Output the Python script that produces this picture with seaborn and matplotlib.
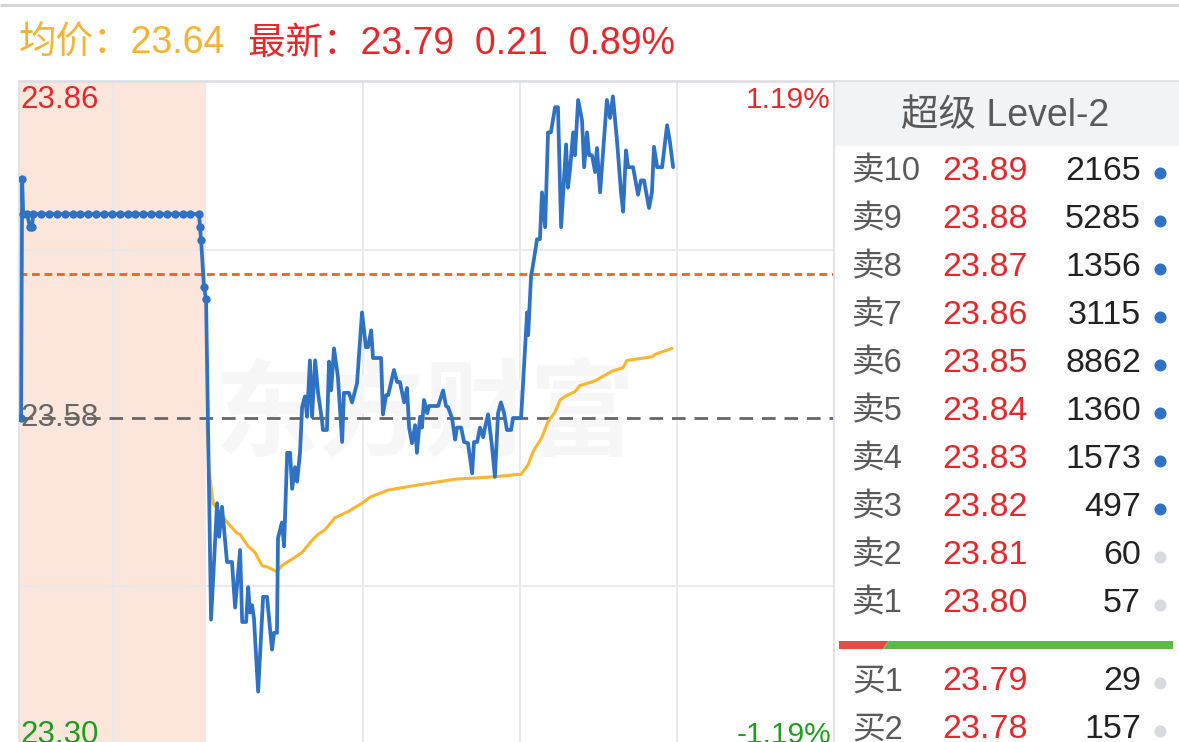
import matplotlib
matplotlib.use("Agg")
import matplotlib.pyplot as plt
import seaborn as sns
from matplotlib.patches import Rectangle, Polygon

sns.set_theme(style="white")
plt.rcParams['font.family'] = ['Liberation Sans', 'Noto Sans CJK SC', 'DejaVu Sans']

# ---------------- data ----------------
prev_close = 23.58
y_top = 23.86
y_bottom = 23.30
pct_top = "1.19%"
pct_bottom = "-1.19%"
ref_price = 23.70          # orange dashed reference line
avg_price = 23.64
last_price = 23.79
change = 0.21
change_pct = "0.89%"

# call-auction segment (minutes relative to 9:30, auction compressed to the left band)
auction_t = [-70.7, -70.3, -69.9, -68.4, -67.3, -66.5, -66.1, -63.0, -60.0, -57.0, -54.0,
             -51.0, -48.0, -45.0, -42.0, -39.0, -36.0, -33.0, -30.0, -27.0, -24.0, -21.0,
             -18.0, -15.0, -12.0, -9.0, -6.0, -2.7, -2.3, -1.9, -0.8, 0.0]
auction_p = [23.580, 23.779, 23.750, 23.750, 23.739, 23.739, 23.750, 23.750, 23.750, 23.750,
             23.750, 23.750, 23.750, 23.750, 23.750, 23.750, 23.750, 23.750, 23.750, 23.750,
             23.750, 23.750, 23.750, 23.750, 23.750, 23.750, 23.750, 23.750, 23.739, 23.728,
             23.689, 23.679]

# continuous trading (minutes since 9:30, lunch break removed)
trade_t = [0.0, 1.9, 4.2, 5.0, 6.1, 8.0, 9.9, 11.1, 13.0, 13.8, 15.3, 16.1, 16.8, 17.6, 18.3,
           19.9, 21.8, 23.3, 25.2, 26.0, 27.1, 27.5, 29.0, 29.8, 31.0, 32.1, 32.9, 34.0, 34.8,
           35.9, 36.7, 37.8, 38.6, 39.7, 40.5, 41.7, 42.8, 44.3, 44.7, 46.2, 47.0, 47.8, 48.9,
           50.4, 52.0, 52.7, 54.6, 55.8, 57.7, 59.6, 61.1, 61.9, 63.1, 63.8, 66.9, 67.6, 68.8,
           69.6, 71.8, 73.0, 74.1, 75.7, 76.8, 77.6, 78.7, 79.9, 80.6, 81.8, 82.5, 83.3, 84.5,
           85.2, 88.7, 90.6, 91.7, 92.5, 94.0, 95.2, 95.9, 97.5, 98.6, 100.1, 101.7, 102.4,
           103.6, 104.7, 105.9, 106.6, 107.8, 109.3, 110.4, 111.6, 112.7, 113.9, 115.0, 116.6,
           117.3, 120.4, 122.7, 123.1, 124.2, 125.0, 126.5, 127.6, 128.4, 129.6, 130.7, 131.8,
           133.4, 134.5, 135.7, 137.6, 138.3, 139.1, 140.3, 141.0, 142.2, 143.7, 144.5, 145.6,
           146.4, 147.5, 148.7, 149.4, 150.6, 153.2, 154.4, 155.5, 157.1, 158.6, 159.4, 160.5,
           161.3, 163.2, 165.1, 166.2, 167.4, 169.3, 170.4, 171.2, 172.4, 174.3, 176.2, 177.3,
           178.5]
trade_p = [23.679, 23.412, 23.509, 23.481, 23.506, 23.460, 23.460, 23.422, 23.470, 23.410,
           23.410, 23.439, 23.418, 23.424, 23.413, 23.352, 23.431, 23.431, 23.387, 23.401,
           23.401, 23.480, 23.493, 23.473, 23.551, 23.551, 23.521, 23.539, 23.527, 23.551,
           23.589, 23.598, 23.581, 23.628, 23.581, 23.628, 23.601, 23.578, 23.570, 23.570,
           23.627, 23.603, 23.638, 23.614, 23.560, 23.601, 23.601, 23.593, 23.609, 23.668,
           23.639, 23.639, 23.653, 23.630, 23.630, 23.583, 23.599, 23.599, 23.620, 23.610,
           23.610, 23.593, 23.605, 23.572, 23.559, 23.574, 23.551, 23.581, 23.572, 23.595,
           23.584, 23.590, 23.590, 23.603, 23.590, 23.589, 23.580, 23.562, 23.572, 23.572,
           23.560, 23.559, 23.534, 23.560, 23.560, 23.572, 23.564, 23.572, 23.583, 23.556,
           23.531, 23.584, 23.593, 23.584, 23.570, 23.570, 23.580, 23.580, 23.668, 23.649,
           23.698, 23.708, 23.729, 23.729, 23.768, 23.739, 23.818, 23.818, 23.839, 23.839,
           23.739, 23.808, 23.772, 23.787, 23.818, 23.799, 23.845, 23.828, 23.789, 23.818,
           23.799, 23.799, 23.785, 23.805, 23.768, 23.845, 23.830, 23.848, 23.810, 23.768,
           23.752, 23.803, 23.789, 23.789, 23.766, 23.778, 23.778, 23.755, 23.768, 23.806,
           23.789, 23.789, 23.824, 23.810, 23.789]

avg_t = [0.4, 1.1, 2.7, 7.3, 11.8, 13.0, 16.1, 18.7, 21.4, 23.3, 27.1, 29.0, 34.0, 36.7, 40.5,
         42.8, 45.5, 49.3, 54.3, 59.6, 62.7, 69.6, 80.6, 95.2, 110.4, 119.2, 120.4, 123.1,
         125.0, 128.4, 130.7, 133.4, 135.3, 137.2, 141.0, 142.9, 148.7, 155.2, 159.4, 160.9,
         170.5, 171.6, 178.1]
avg_p = [23.576, 23.537, 23.509, 23.495, 23.484, 23.483, 23.473, 23.468, 23.457, 23.456,
         23.452, 23.457, 23.464, 23.468, 23.478, 23.483, 23.487, 23.497, 23.502, 23.509,
         23.514, 23.520, 23.524, 23.529, 23.531, 23.533, 23.533, 23.541, 23.552, 23.564,
         23.577, 23.585, 23.595, 23.598, 23.602, 23.607, 23.611, 23.619, 23.622, 23.628,
         23.631, 23.633, 23.638]

x_start, x_end = -71.5, 240.0
grid_x = [-35.7, 60, 120, 180]
grid_y = [23.72, 23.44]

# order book
sell_levels = ['卖10', '卖9', '卖8', '卖7', '卖6', '卖5', '卖4', '卖3', '卖2', '卖1']
sell_prices = [23.89, 23.88, 23.87, 23.86, 23.85, 23.84, 23.83, 23.82, 23.81, 23.80]
sell_volumes = [2165, 5285, 1356, 3115, 8862, 1360, 1573, 497, 60, 57]
sell_active = [True, True, True, True, True, True, True, True, False, False]
buy_levels = ['买1', '买2']
buy_prices = [23.79, 23.78]
buy_volumes = [29, 157]
buy_active = [False, False]
buy_ratio = 0.14

# ---------------- colours ----------------
RED = '#e5282c'
GREEN = '#1c9e1c'
ORANGE_TXT = '#f4b236'
BLUE = '#2f71c3'
AVG = '#f8b531'
GRAY_TXT = '#5a5a5a'

W, H = 1179, 742
fig = plt.figure(figsize=(W / 100, H / 100), dpi=100)
fig.patch.set_facecolor('white')

# ---------------- chart ----------------
ax = fig.add_axes([19 / W, (H - 754) / H, 815 / W, 672 / H])
ax.set_xlim(x_start, x_end)
ax.set_ylim(y_bottom, y_top)
ax.set_facecolor('white')
for side in ['left', 'top', 'right']:
    ax.spines[side].set_color('#dcdee3')
    ax.spines[side].set_linewidth(1.2)
ax.spines['bottom'].set_visible(False)
ax.set_xticks([])
ax.set_yticks([])
ax.set_xlabel('')
ax.set_ylabel('')

ax.axvspan(x_start, 0, color='#fce6dc', zorder=0, lw=0)
for gx in grid_x:
    ax.axvline(gx, color='#e6e8ee', lw=1.3, zorder=1)
for gy in grid_y:
    ax.axhline(gy, color='#e6e8ee', lw=1.3, zorder=1)

ax.text(0.498, 0.503, '东方财富', transform=ax.transAxes, ha='center', va='center',
        fontsize=76, color='#f6f6f6', fontweight='bold', zorder=1.5,
        family=['Noto Sans CJK SC'])

ax.axhline(prev_close, color='#666666', lw=2.0, dashes=(4.9, 3.2), zorder=2)
ax.axhline(ref_price, color='#e8661f', lw=2.0, dashes=(2.8, 1.7), zorder=2)

sns.lineplot(x=avg_t, y=avg_p, ax=ax, color=AVG, lw=2.2, sort=False, estimator=None, zorder=3)
sns.lineplot(x=trade_t, y=trade_p, ax=ax, color=BLUE, lw=2.7, sort=False, estimator=None, zorder=4)
sns.lineplot(x=auction_t, y=auction_p, ax=ax, color=BLUE, lw=2.7, sort=False, estimator=None,
             marker='o', markersize=6, markeredgewidth=0, zorder=4)
ax.set_xlim(x_start, x_end)
ax.set_ylim(y_bottom, y_top)

# ---------------- overlay (text, order book) ----------------
ov = fig.add_axes([0, 0, 1, 1], zorder=5)
ov.set_xlim(0, W)
ov.set_ylim(H, 0)
ov.axis('off')
ov.patch.set_alpha(0)

ov.plot([0, W], [5, 5], color='#d4d5d8', lw=2.2, solid_capstyle='butt')
ov.plot([19, W], [81, 81], color='#dcdee3', lw=1.2)

ov.text(19, 44, f'均价：{avg_price:.2f}', color=ORANGE_TXT, fontsize=27, ha='left', va='center')
ov.text(248, 44, f'最新：{last_price:.2f}  {change:.2f}  {change_pct}', color=RED,
        fontsize=27, ha='left', va='center')

# axis labels inside the chart
ov.text(20, 100, f'{y_top:.2f}', color=RED, fontsize=22.5, ha='left', va='center')
ov.text(20, 418, f'{prev_close:.2f}', color='#666666', fontsize=22.5, ha='left', va='center')
ov.text(20, 735, f'{y_bottom:.2f}', color=GREEN, fontsize=22.5, ha='left', va='center')
ov.text(831, 100, pct_top, color=RED, fontsize=21.5, ha='right', va='center')
ov.text(831, 735, pct_bottom, color=GREEN, fontsize=21.5, ha='right', va='center')

# order book panel
ov.add_patch(Rectangle((835, 82), W - 835, 64, color='#f2f3f5', lw=0))
ov.text(1005, 116, '超级 Level-2', color=GRAY_TXT, fontsize=27, ha='center', va='center')


def draw_row(y, label, price, vol, active):
    ov.text(852, y, label, color=GRAY_TXT, fontsize=23.5, ha='left', va='center')
    ov.text(985, y, f'{price:.2f}', color=RED, fontsize=24.5, ha='center', va='center')
    ov.text(1141, y, f'{vol}', color='#222222', fontsize=24.5, ha='right', va='center')
    ov.scatter([1160], [y + 1], s=75, color=BLUE if active else '#d6d9de', lw=0)


for i, (lab, p, v, a) in enumerate(zip(sell_levels, sell_prices, sell_volumes, sell_active)):
    draw_row(172 + 48 * i, lab, p, v, a)
for i, (lab, p, v, a) in enumerate(zip(buy_levels, buy_prices, buy_volumes, buy_active)):
    draw_row(682 + 48 * i, lab, p, v, a)

bx0, bx1, by, bh = 839, 1173, 645, 8
xr = bx0 + buy_ratio * (bx1 - bx0)
ov.add_patch(Polygon([(bx0, by - bh / 2), (xr + 3, by - bh / 2), (xr - 3, by + bh / 2),
                      (bx0, by + bh / 2)], closed=True, color='#e84a4a', lw=0))
ov.add_patch(Polygon([(xr + 3, by - bh / 2), (bx1, by - bh / 2), (bx1, by + bh / 2),
                      (xr - 3, by + bh / 2)], closed=True, color='#5cb947', lw=0))

fig.savefig('out.png', dpi=100)
